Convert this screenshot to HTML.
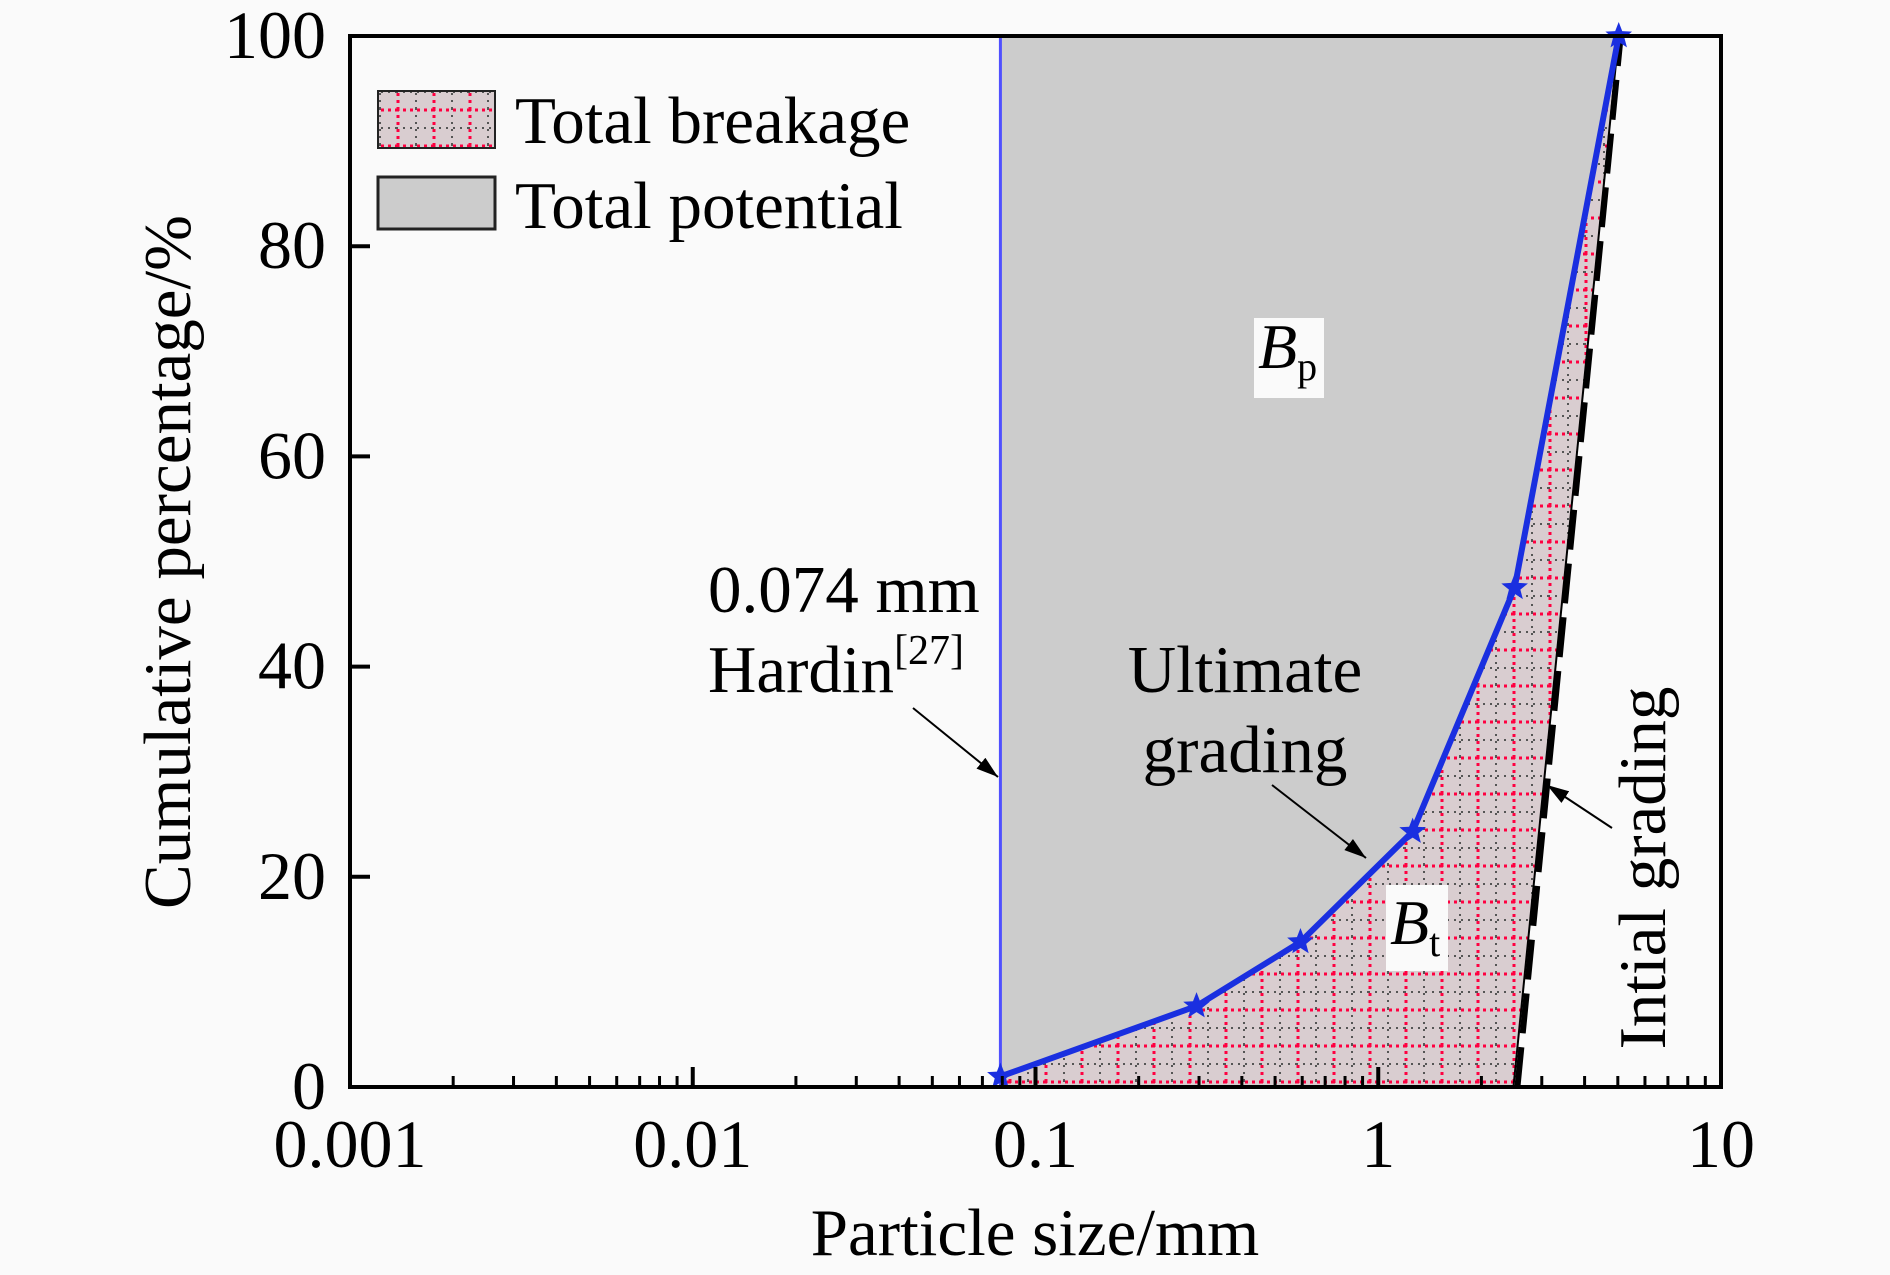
<!DOCTYPE html>
<html><head><meta charset="utf-8"><style>
html,body{margin:0;padding:0;background:#fafafa;}
svg{display:block;font-family:"Liberation Serif",serif;}
</style></head><body>
<svg id="chart" width="1890" height="1275" viewBox="0 0 1890 1275">
<defs>
<pattern id="hatch" patternUnits="userSpaceOnUse" width="36" height="36" x="0" y="0">
<rect width="36" height="36" fill="#d9cdd0"/>
<line x1="0" y1="2" x2="36" y2="2" stroke="#ff0040" stroke-width="3" stroke-dasharray="3 4"/>
<line x1="2" y1="0" x2="2" y2="36" stroke="#ff0040" stroke-width="3" stroke-dasharray="3 4"/>
<line x1="0" y1="20" x2="36" y2="20" stroke="#555" stroke-width="2" stroke-dasharray="2 5"/>
<line x1="20" y1="0" x2="20" y2="36" stroke="#555" stroke-width="2" stroke-dasharray="2 5"/>
</pattern>
</defs>
<g id="plot"></g>
</svg>
<script>
const ultSizes = [0.079, 0.295, 0.593, 1.26, 2.5, 5.03];
const ultPct = [1, 7.7, 13.8, 24.3, 47.5, 100];
const initSizes = [2.48, 5.03];
const initPct = [0, 100];
const cutoffSize = 0.079;
const xTicks = [0.001, 0.01, 0.1, 1, 10];
const xTickLabels = ["0.001", "0.01", "0.1", "1", "10"];
const yTicks = [0, 20, 40, 60, 80, 100];

const L=350, R=1721, T=36, B=1087;
const xMinLog=-3, xMaxLog=1;
function X(v){return L+(Math.log10(v)-xMinLog)/(xMaxLog-xMinLog)*(R-L);}
function Y(v){return B-v/100*(B-T);}
const NS="http://www.w3.org/2000/svg";
const g=document.getElementById('plot');
function mk(tag,attrs,parent){const e=document.createElementNS(NS,tag);for(const k in attrs)e.setAttribute(k,attrs[k]);(parent||g).appendChild(e);return e;}

let pp=`${X(cutoffSize)},${Y(0)} ${X(cutoffSize)},${Y(100)} ${X(initSizes[1])},${Y(initPct[1])} ${X(initSizes[0])},${Y(initPct[0])}`;
let gray=mk('polygon',{points:pp,fill:'#cccccc'});



let hp=ultSizes.map((s,i)=>`${X(s)},${Y(ultPct[i])}`).join(' ');
hp+=` ${X(initSizes[0])},${Y(initPct[0])} ${X(cutoffSize)},${Y(0)}`;
let hatch=mk('polygon',{points:hp,fill:'url(#hatch)'});



let cl=mk('line',{x1:X(cutoffSize),y1:Y(0),x2:X(cutoffSize),y2:Y(100),stroke:'#5050ff','stroke-width':3});



let il=mk('line',{x1:X(initSizes[0]),y1:Y(initPct[0]),x2:X(initSizes[1]),y2:Y(initPct[1]),stroke:'#000','stroke-width':2});


let idl=mk('line',{x1:X(initSizes[0])+4,y1:Y(initPct[0]),x2:X(initSizes[1])+2,y2:Y(initPct[1]),stroke:'#000','stroke-width':6,'stroke-dasharray':'40 14'});



let ul=mk('polyline',{points:ultSizes.map((s,i)=>`${X(s)},${Y(ultPct[i])}`).join(' '),fill:'none',stroke:'#1a2fe0','stroke-width':6,'stroke-linejoin':'round'});


ultSizes.forEach((s,i)=>{
  const cx=X(s),cy=Y(ultPct[i]);let pts=[];
  for(let k=0;k<10;k++){const r=k%2?6:14;const a=-Math.PI/2+k*Math.PI/5;pts.push(`${cx+r*Math.cos(a)},${cy+r*Math.sin(a)}`);}
  const st=mk('polygon',{points:pts.join(' '),fill:'#1a2fe0'});
  
  
});

let fr=mk('rect',{x:L,y:T,width:R-L,height:B-T,fill:'none',stroke:'#000','stroke-width':4});



yTicks.forEach(v=>{
  const t=mk('line',{x1:L,y1:Y(v),x2:L+20,y2:Y(v),stroke:'#000','stroke-width':4});
  
  
  const tx=mk('text',{x:L-24,y:Y(v)+22,'text-anchor':'end','font-size':68});
  tx.textContent=v;
  
  
});
xTicks.forEach((v,i)=>{
  const t=mk('line',{x1:X(v),y1:B,x2:X(v),y2:B-20,stroke:'#000','stroke-width':4});
  
  
  const tx=mk('text',{x:X(v),y:B+80,'text-anchor':'middle','font-size':68});
  tx.textContent=xTickLabels[i];
  
  
  if(i<xTicks.length-1){for(let m=2;m<10;m++){
    const mt=mk('line',{x1:X(v*m),y1:B,x2:X(v*m),y2:B-11,stroke:'#000','stroke-width':3});
    
    
  }}
});
</script>
<svg width="1890" height="1275" viewBox="0 0 1890 1275" style="position:absolute;left:0;top:0;font-family:'Liberation Serif',serif">
<defs><marker id="arr2" markerWidth="22" markerHeight="14" refX="22" refY="7" orient="auto" markerUnits="userSpaceOnUse"><path d="M0,0 L22,7 L0,14 Z" fill="#000"/></marker></defs>
<text x="1035" y="1255" text-anchor="middle" font-size="67">Particle size/mm</text>
<text transform="translate(190,562) rotate(-90)" text-anchor="middle" font-size="67">Cumulative percentage/%</text>
<g>
<rect x="378" y="91" width="117" height="57" fill="url(#hatch)" stroke="#222" stroke-width="2"/>
<text x="515" y="143" font-size="67">Total breakage</text>
<rect x="378" y="177" width="117" height="52" fill="#cccccc" stroke="#222" stroke-width="3"/>
<text x="515" y="228" font-size="67">Total potential</text>
</g>
<text x="708" y="612" font-size="67">0.074 mm</text>
<text x="708" y="692" font-size="67">Hardin<tspan font-size="42" dy="-28">[27]</tspan></text>
<line x1="913" y1="708" x2="998" y2="777" stroke="#000" stroke-width="2" marker-end="url(#arr2)"/>
<rect x="1254" y="318" width="70" height="80" fill="#fafafa"/>
<text x="1258" y="368" font-size="64" font-style="italic">B<tspan font-style="normal" font-size="40" dy="12">p</tspan></text>
<rect x="1386" y="885" width="62" height="86" fill="#fafafa"/>
<text x="1390" y="944" font-size="64" font-style="italic">B<tspan font-style="normal" font-size="40" dy="12">t</tspan></text>
<text x="1245" y="692" text-anchor="middle" font-size="67">Ultimate</text>
<text x="1245" y="772" text-anchor="middle" font-size="67">grading</text>
<line x1="1272" y1="785" x2="1366" y2="858" stroke="#000" stroke-width="2" marker-end="url(#arr2)"/>
<text transform="translate(1665,868) rotate(-90)" text-anchor="middle" font-size="67">Intial grading</text>
<line x1="1612" y1="828" x2="1547" y2="785" stroke="#000" stroke-width="2" marker-end="url(#arr2)"/>
</svg>
</body></html>
